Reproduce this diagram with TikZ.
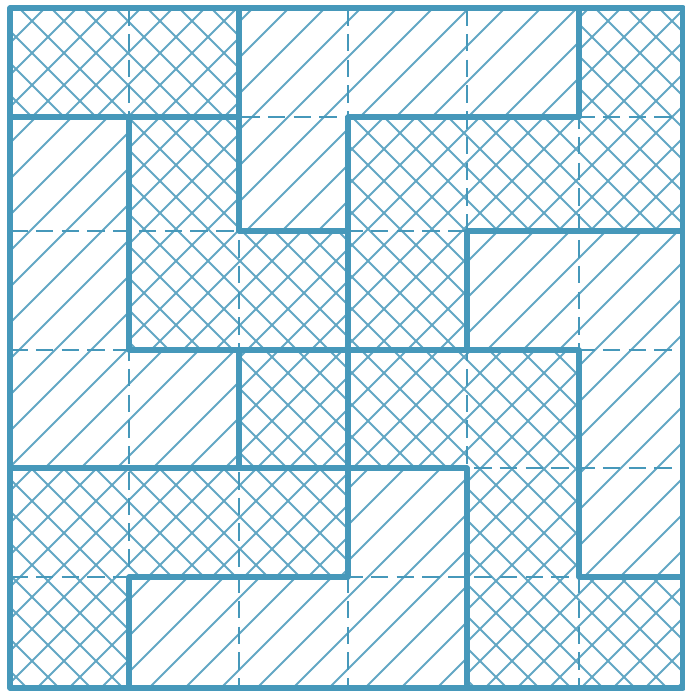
\documentclass[tikz,border=0pt]{standalone}
\usepackage{tikz}
\definecolor{tileBlue}{RGB}{70,152,186}
\tikzset{
  hatchline/.style={draw=tileBlue!85, line width=1.6pt},
  seamline/.style={draw=tileBlue, line width=2pt, dash pattern=on 15pt off 7pt},
  borderline/.style={draw=tileBlue, line width=4.3pt, line cap=round, line join=round}
}
\begin{document}
\begin{tikzpicture}[x=0.03cm, y=0.03cm]
  \useasboundingbox (0,0) rectangle (685,693);
  \foreach \x [count=\i from 0] in {10,129,239,348,467,579,683} {
    \foreach \y [count=\j from 0] in {685,576,462,343,225,116,5} {
      \coordinate (p\i-\j) at (\x,\y);
    }
  }
  \begin{scope}
    \clip foreach \r/\c [evaluate=\c as \cl using int(\c-1), evaluate=\r as \ru using int(\r-1)]
      in {1/3,1/4,1/5,2/1,2/3,3/1,3/5,3/6,4/1,4/2,4/6,5/4,5/6,6/2,6/3,6/4}
      {(p\cl-\ru) rectangle (p\c-\r)};
    \foreach \k in {-20,...,20} \draw[hatchline] (\k*36,0) -- ++(700,700);
  \end{scope}
  \begin{scope}
    \clip foreach \r/\c [evaluate=\c as \cl using int(\c-1), evaluate=\r as \ru using int(\r-1)]
      in {1/1,1/2,1/6,2/2,2/4,2/5,2/6,3/2,3/3,3/4,4/3,4/4,4/5,5/1,5/2,5/3,5/5,6/1,6/5,6/6}
      {(p\cl-\ru) rectangle (p\c-\r)};
    \foreach \k in {-22,...,22} \draw[hatchline] (\k*32,0) -- ++(700,700);
    \foreach \k in {0,...,44} \draw[hatchline] (\k*32,0) -- ++(-700,700);
  \end{scope}
  \foreach \i in {1,...,5} {
    \draw[seamline] (p\i-0) -- (p\i-6);
    \draw[seamline] (p0-\i) -- (p6-\i);
  }
  \foreach \j/\a/\b in {1/0/2,1/3/5,2/2/3,2/4/6,3/1/5,4/0/4,5/1/3,5/5/6}
    \draw[borderline] (p\a-\j) -- (p\b-\j);
  \foreach \i/\a/\b in {1/1/3,1/5/6,2/0/2,2/3/4,3/1/5,4/2/3,4/4/6,5/0/1,5/3/5}
    \draw[borderline] (p\i-\a) -- (p\i-\b);
  \draw[borderline] (p0-0) rectangle (p6-6);
\end{tikzpicture}
\end{document}
